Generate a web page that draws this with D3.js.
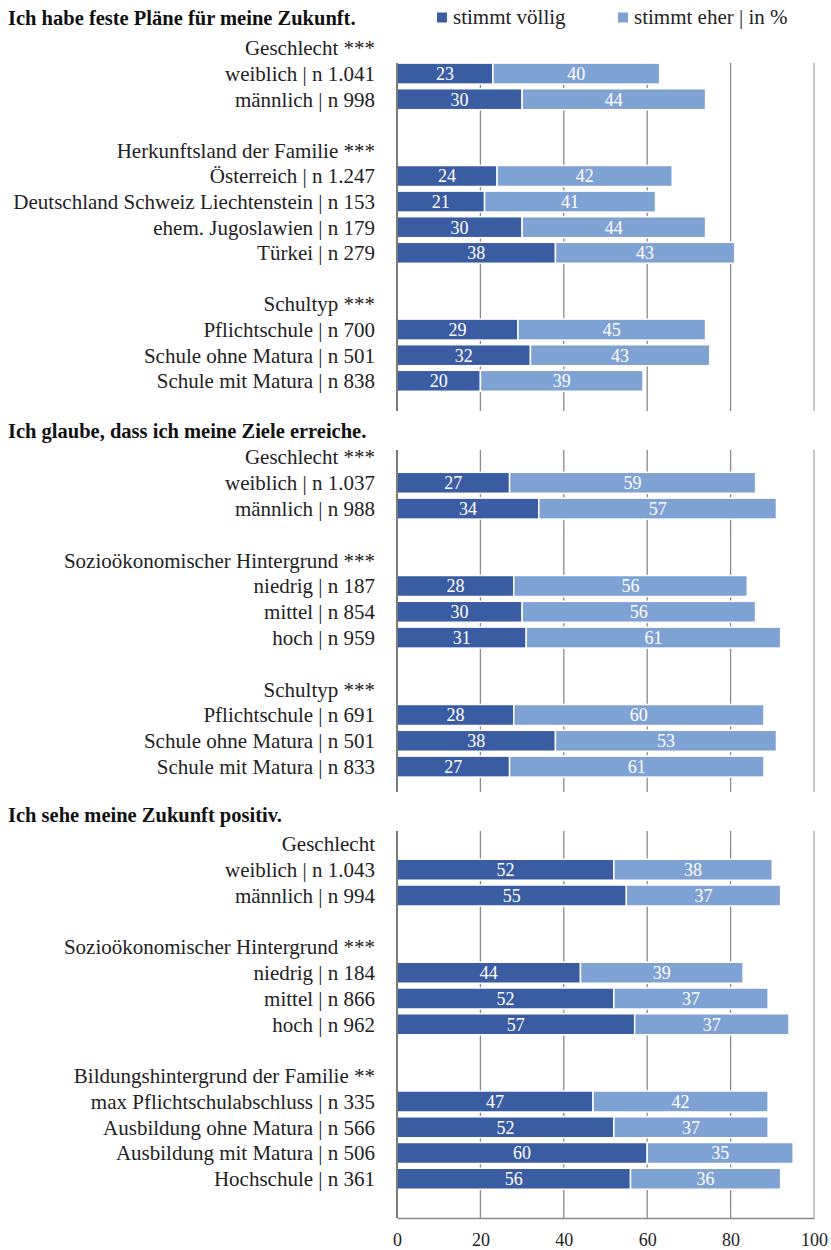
<!DOCTYPE html>
<html><head><meta charset="utf-8">
<script src="https://cdn.jsdelivr.net/npm/d3@7"></script>
<style>
html,body{margin:0;padding:0;background:#fff;}
svg{display:block;}
text{font-family:"Liberation Serif","DejaVu Serif",serif;}
</style></head>
<body>
<svg id="chart" width="831" height="1250"></svg>
<script>
// ---- data ----
const seriesNames = ["stimmt völlig", "stimmt eher | in %"];
const panelTitles = [
  "Ich habe feste Pläne für meine Zukunft.",
  "Ich glaube, dass ich meine Ziele erreiche.",
  "Ich sehe meine Zukunft positiv."
];
const panel1Labels = ["Geschlecht ***","weiblich | n 1.041","männlich | n 998","",
  "Herkunftsland der Familie ***","Österreich | n 1.247","Deutschland Schweiz Liechtenstein | n 153","ehem. Jugoslawien | n 179","Türkei | n 279","",
  "Schultyp ***","Pflichtschule | n 700","Schule ohne Matura | n 501","Schule mit Matura | n 838"];
const panel1Voellig = [null,23,30,null, null,24,21,30,38,null, null,29,32,20];
const panel1Eher    = [null,40,44,null, null,42,41,44,43,null, null,45,43,39];

const panel2Labels = ["Geschlecht ***","weiblich | n 1.037","männlich | n 988","",
  "Sozioökonomischer Hintergrund ***","niedrig | n 187","mittel | n 854","hoch | n 959","",
  "Schultyp ***","Pflichtschule | n 691","Schule ohne Matura | n 501","Schule mit Matura | n 833"];
const panel2Voellig = [null,27,34,null, null,28,30,31,null, null,28,38,27];
const panel2Eher    = [null,59,57,null, null,56,56,61,null, null,60,53,61];

const panel3Labels = ["Geschlecht","weiblich | n 1.043","männlich | n 994","",
  "Sozioökonomischer Hintergrund ***","niedrig | n 184","mittel | n 866","hoch | n 962","",
  "Bildungshintergrund der Familie **","max Pflichtschulabschluss | n 335","Ausbildung ohne Matura | n 566","Ausbildung mit Matura | n 506","Hochschule | n 361"];
const panel3Voellig = [null,52,55,null, null,44,52,57,null, null,47,52,60,56];
const panel3Eher    = [null,38,37,null, null,39,37,37,null, null,42,37,35,36];

const xTicks = [0,20,40,60,80,100];

// ---- layout ----
const colDark = "#3a5ca3", colLight = "#7fa2d5";
const svg = d3.select("#chart");
const x = d3.scaleLinear().domain([0,100]).range([397,814]);

const panels = [
  {title: panelTitles[0], titleY: 18, labels: panel1Labels, v1: panel1Voellig, v2: panel1Eher, y0: 48, pitch: 25.6, top: 63, bottom: 411, axis:false},
  {title: panelTitles[1], titleY: 431, labels: panel2Labels, v1: panel2Voellig, v2: panel2Eher, y0: 457, pitch: 25.8, top: 450, bottom: 792, axis:false},
  {title: panelTitles[2], titleY: 815, labels: panel3Labels, v1: panel3Voellig, v2: panel3Eher, y0: 844, pitch: 25.75, top: 831, bottom: 1218, axis:true}
];

const barH = 21;

panels.forEach(p => {
  const g = svg.append("g");
  const y = d3.scaleLinear().domain([0,1]).range([p.y0, p.y0 + p.pitch]);
  g.append("text").attr("x",8).attr("y",p.titleY).attr("dy","0.35em")
    .attr("font-size",20.5).attr("font-weight","bold").attr("fill","#111").text(p.title);
  g.selectAll("line.grid").data(xTicks.filter(t=>t>0)).join("line")
    .attr("x1",d=>x(d)).attr("x2",d=>x(d)).attr("y1",p.top).attr("y2",p.bottom)
    .attr("stroke",d=>d===100?"#ababab":"#8a8a8a").attr("stroke-width",1.3);
  g.selectAll("text.lab").data(p.labels).join("text")
    .attr("x",375).attr("y",(d,i)=>y(i)).attr("dy","0.35em")
    .attr("text-anchor","end").attr("font-size",21).attr("fill","#222").text(d=>d);
  const rows = p.labels.map((l,i)=>({i, a:p.v1[i], b:p.v2[i]})).filter(r=>r.a!=null);
  g.selectAll("rect.d").data(rows).join("rect")
    .attr("x",x(0)).attr("y",r=>y(r.i)-barH/2).attr("width",r=>x(r.a)-x(0)).attr("height",barH)
    .attr("fill",colDark).attr("stroke","#fff").attr("stroke-width",1.5);
  g.selectAll("rect.l").data(rows).join("rect")
    .attr("x",r=>x(r.a)).attr("y",r=>y(r.i)-barH/2).attr("width",r=>x(r.a+r.b)-x(r.a)).attr("height",barH)
    .attr("fill",colLight).attr("stroke","#fff").attr("stroke-width",1.5);
  g.selectAll("text.vd").data(rows).join("text")
    .attr("x",r=>(x(0)+x(r.a))/2).attr("y",r=>y(r.i)).attr("dy","0.35em")
    .attr("text-anchor","middle").attr("font-size",18).attr("fill","#fff").text(r=>r.a);
  g.selectAll("text.vl").data(rows).join("text")
    .attr("x",r=>(x(r.a)+x(r.a+r.b))/2).attr("y",r=>y(r.i)).attr("dy","0.35em")
    .attr("text-anchor","middle").attr("font-size",18).attr("fill","#fff").text(r=>r.b);
  g.append("line").attr("x1",x(0)).attr("x2",x(0)).attr("y1",p.top).attr("y2",p.bottom)
    .attr("stroke","#7a7a7a").attr("stroke-width",2);
  if (p.axis) {
    const ax = svg.append("g").attr("transform",`translate(0,${p.bottom})`)
      .call(d3.axisBottom(x).tickValues(xTicks).tickSize(0).tickSizeOuter(0).tickPadding(15));
    ax.select(".domain").attr("stroke","#8a8a8a").attr("stroke-width",1.5);
    ax.selectAll("text").attr("font-size",18).attr("fill","#222")
      .attr("font-family",'"Liberation Serif","DejaVu Serif",serif');
  }
});

// legend
const legX = [437, 618];
const leg = svg.append("g");
seriesNames.forEach((n,i)=>{
  leg.append("rect").attr("x",legX[i]).attr("y",12.5).attr("width",10).attr("height",10)
    .attr("fill", i===0?colDark:colLight);
  leg.append("text").attr("x",legX[i]+16).attr("y",17).attr("dy","0.35em")
    .attr("font-size",21).attr("fill","#222").text(n);
});
</script>
</body></html>
